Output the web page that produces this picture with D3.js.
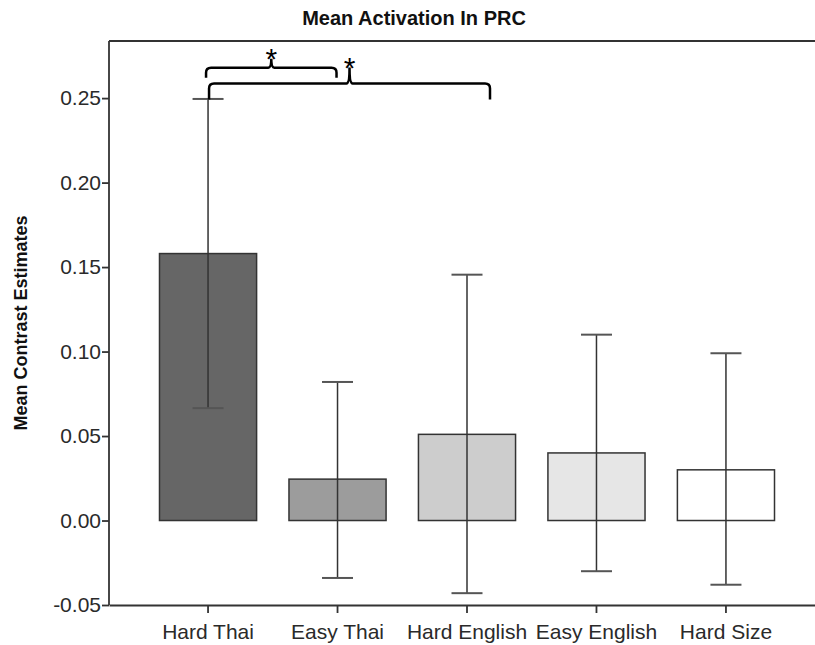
<!DOCTYPE html>
<html>
<head>
<meta charset="utf-8">
<script src="https://cdn.jsdelivr.net/npm/d3@7"></script>
<style>
  body { margin: 0; background: #fff; }
  svg text { font-family: "Liberation Sans", Arial, sans-serif; }
</style>
</head>
<body>
<div id="chart"></div>
<script>
// values
const categories = ["Hard Thai", "Easy Thai", "Hard English", "Easy English", "Hard Size"];
const means = [0.158, 0.0245, 0.051, 0.040, 0.030];
const upper = [0.2495, 0.082, 0.1455, 0.110, 0.099];
const lower = [0.0665, -0.034, -0.043, -0.030, -0.038];
const fills = ["#666666", "#9c9c9c", "#cdcdcd", "#e6e6e6", "#ffffff"];
const yTicks = [-0.05, 0.00, 0.05, 0.10, 0.15, 0.20, 0.25];
// significance brackets: [from category, to category, value level]
const sigPairs = [["Hard Thai", "Easy Thai", 0.268], ["Hard Thai", "Hard English", 0.2586]];

const W = 815, H = 645;
const mLeft = 109, mRight = 825, mTop = 41, mBottom = 605;

const svg = d3.select("#chart").append("svg")
    .attr("width", W)
    .attr("height", H);

const x = d3.scaleBand()
    .domain(categories)
    .range([mLeft, mRight])
    .paddingInner(0.25)
    .paddingOuter(0.39);

const y = d3.scaleLinear()
    .domain([-0.05, 0.2838])
    .range([mBottom, mTop]);

const data = categories.map((c, i) => ({cat: c, mean: means[i], hi: upper[i], lo: lower[i], fill: fills[i]}));

// bars
svg.selectAll("rect.bar")
    .data(data)
  .enter().append("rect")
    .attr("class", "bar")
    .attr("x", d => x(d.cat))
    .attr("width", x.bandwidth())
    .attr("y", d => y(Math.max(0, d.mean)))
    .attr("height", d => Math.abs(y(d.mean) - y(0)))
    .style("fill", d => d.fill)
    .style("stroke", "#333")
    .style("stroke-width", 1.5);

// error bars
const capW = 31;
const eb = svg.selectAll("g.err")
    .data(data)
  .enter().append("g")
    .attr("class", "err")
    .attr("transform", d => "translate(" + (x(d.cat) + x.bandwidth() / 2) + ",0)");
eb.append("line")
    .attr("x1", 0).attr("x2", 0)
    .attr("y1", d => y(d.hi)).attr("y2", d => y(d.lo))
    .style("stroke", "#333").style("stroke-width", 1.5);
eb.append("line")
    .attr("x1", -capW / 2).attr("x2", capW / 2)
    .attr("y1", d => y(d.hi)).attr("y2", d => y(d.hi))
    .style("stroke", "#555").style("stroke-width", 2);
eb.append("line")
    .attr("x1", -capW / 2).attr("x2", capW / 2)
    .attr("y1", d => y(d.lo)).attr("y2", d => y(d.lo))
    .style("stroke", "#555").style("stroke-width", 2);

// axes
const fmt = d3.format(".2f");
const yAxis = svg.append("g")
    .attr("transform", "translate(" + mLeft + ",0)")
    .call(d3.axisLeft(y).tickValues(yTicks)
        .tickFormat(d => fmt(d).replace("\u2212", "-"))
        .tickSize(7).tickSizeOuter(0));
const xAxis = svg.append("g")
    .attr("transform", "translate(0," + mBottom + ")")
    .call(d3.axisBottom(x).tickSize(8).tickSizeOuter(0));
[yAxis, xAxis].forEach(a => {
    a.select(".domain").style("stroke", "#333").style("stroke-width", 1.8);
    a.selectAll(".tick line").style("stroke", "#333").style("stroke-width", 1.8);
    a.selectAll(".tick text")
        .style("font-size", "21px")
        .style("fill", "#2a2a2a")
        .style("font-family", "'Liberation Sans', Arial, sans-serif");
});
yAxis.selectAll(".tick text").attr("x", -8);
xAxis.selectAll(".tick text").attr("dy", "1.1em");
// y axis line runs up to the top of the frame
yAxis.select(".domain").attr("d", "M0," + mTop + "V" + mBottom);

// top frame line
svg.append("line")
    .attr("x1", mLeft).attr("x2", W)
    .attr("y1", mTop).attr("y2", mTop)
    .style("stroke", "#333").style("stroke-width", 1.8);

// title and axis label
svg.append("text")
    .attr("x", 414).attr("y", 25)
    .attr("text-anchor", "middle")
    .style("font-size", "20px").style("font-weight", "bold").style("fill", "#111")
    .text("Mean Activation In PRC");
svg.append("text")
    .attr("transform", "translate(27," + ((mTop + mBottom) / 2) + ") rotate(-90)")
    .attr("text-anchor", "middle")
    .style("font-size", "18px").style("font-weight", "bold").style("fill", "#111")
    .text("Mean Contrast Estimates");

// significance brackets
function bracketPath(x1, x2, yLine, drop, peak) {
    const xm = (x1 + x2) / 2, r = 5;
    return "M" + x1 + "," + (yLine + drop) +
        "V" + (yLine + r) +
        "Q" + x1 + "," + yLine + " " + (x1 + r) + "," + yLine +
        "H" + (xm - 3) +
        "Q" + xm + "," + yLine + " " + xm + "," + (yLine - peak) +
        "Q" + xm + "," + yLine + " " + (xm + 3) + "," + yLine +
        "H" + (x2 - r) +
        "Q" + x2 + "," + yLine + " " + x2 + "," + (yLine + r) +
        "V" + (yLine + drop);
}
sigPairs.forEach((p, i) => {
    const x1 = x(p[0]) + x.bandwidth() / 2 - (i === 0 ? 2 : -1);
    const x2 = x(p[1]) + x.bandwidth() / 2 + (i === 0 ? -1 : 23);
    const yl = y(p[2]);
    const drop = i === 0 ? 10 : 16;
    const peak = i === 0 ? 9 : 16;
    svg.append("path")
        .attr("d", bracketPath(x1, x2, yl, drop, peak))
        .style("fill", "none").style("stroke", "#000").style("stroke-width", 2.5);
    svg.append("text")
        .attr("x", (x1 + x2) / 2).attr("y", yl - peak + 10.5)
        .attr("text-anchor", "middle")
        .style("font-size", "30px").style("fill", "#000")
        .text("*");
});
</script>
</body>
</html>
